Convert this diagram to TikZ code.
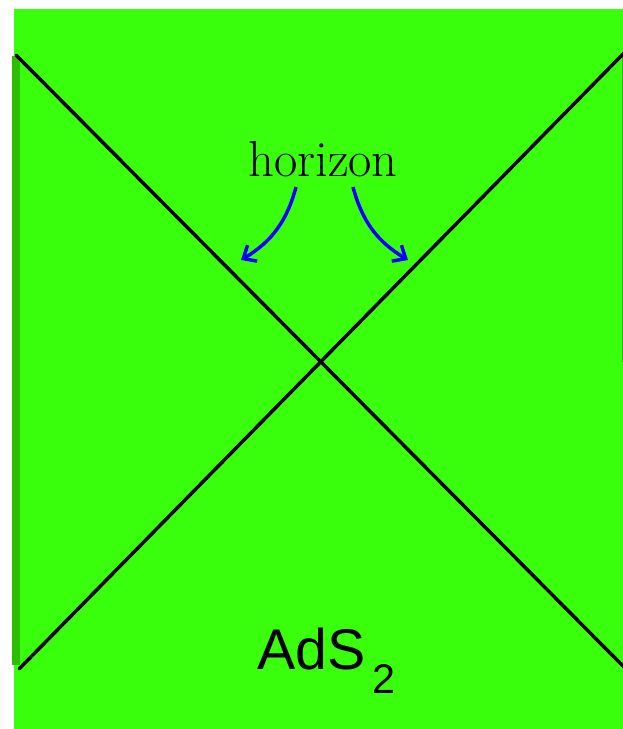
\documentclass[tikz,border=0pt]{standalone}
\usepackage{fontspec}
\newfontfamily\arialfont{Liberation Sans}
\usetikzlibrary{arrows.meta}
\definecolor{bggreen}{RGB}{57,255,12}
\definecolor{bargreen}{RGB}{44,190,0}
\tikzset{
  horizonline/.style={line width=2.6pt, black, line cap=round},
  pointer/.style={blue, line width=2.6pt, -{Straight Barb[length=8pt,width=14pt,line width=2.6pt]}}
}
\begin{document}
\begin{tikzpicture}[x=0.75pt,y=-0.75pt]
\useasboundingbox (0,0) rectangle (623,729);
\fill[bggreen] (14,9) rectangle (623,729);
\fill[bargreen] (12,56) rectangle (20,665);
\fill[bargreen] (621.8,53) rectangle (623,362);
\coordinate (tl) at (16,55);
\coordinate (br) at (624,667);
\coordinate (bl) at (19,669);
\coordinate (tr) at (624,53);
\draw[horizonline] (tl) -- (br);
\draw[horizonline] (bl) -- (tr);
\node[anchor=base, inner sep=0pt] (hz) at (323,176) {\fontsize{38}{44}\selectfont horizon};
\coordinate (la) at (296,187);
\coordinate (lt) at (241,260);
\coordinate (ra) at (353,187);
\coordinate (rt) at (408,260);
\draw[pointer] (la) to[bend left=22] (lt);
\draw[pointer] (ra) to[bend right=22] (rt);
\node[anchor=base west, inner sep=0pt] (ads) at (257,669) {\arialfont\fontsize{43}{50}\selectfont AdS\hspace{5pt}\raisebox{-18pt}{\fontsize{31}{34}\selectfont 2}};
\end{tikzpicture}
\end{document}
